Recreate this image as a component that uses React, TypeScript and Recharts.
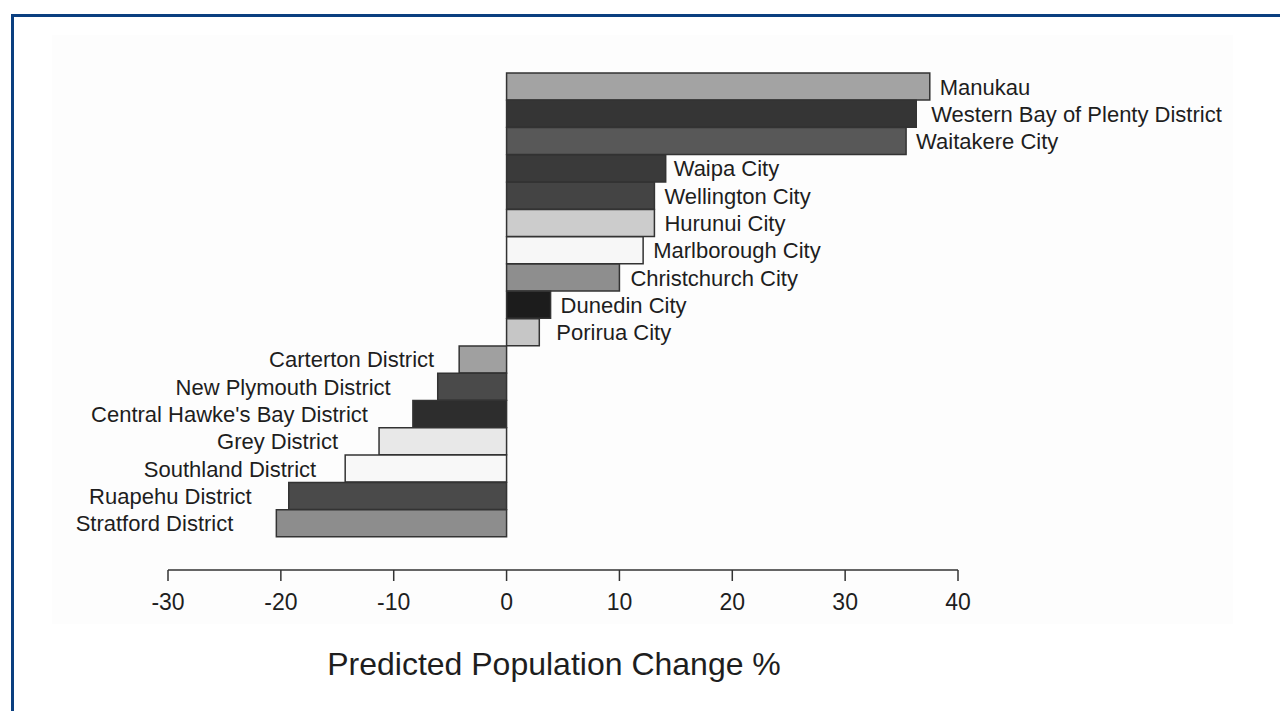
import { BarChart, Bar, XAxis, YAxis, Cell, LabelList } from "recharts";

const districts = [
  "Manukau",
  "Western Bay of Plenty District",
  "Waitakere City",
  "Waipa City",
  "Wellington City",
  "Hurunui City",
  "Marlborough City",
  "Christchurch City",
  "Dunedin City",
  "Porirua City",
  "Carterton District",
  "New Plymouth District",
  "Central Hawke's Bay District",
  "Grey District",
  "Southland District",
  "Ruapehu District",
  "Stratford District",
];

const change = [37.5, 36.3, 35.4, 14.1, 13.1, 13.1, 12.1, 10.0, 3.9, 2.9, -4.2, -6.1, -8.3, -11.3, -14.3, -19.3, -20.4];

const xTicks = [-30, -20, -10, 0, 10, 20, 30, 40];

// grey shade for each bar
const shades = [
  "#a3a3a3", "#353535", "#585858", "#3a3a3a", "#444444", "#cccccc", "#f7f7f7", "#8e8e8e", "#1c1c1c",
  "#c6c6c6", "#a0a0a0", "#4a4a4a", "#2d2d2d", "#e8e8e8", "#f8f8f8", "#4a4a4a", "#8d8d8d",
];

// distance between bar end and its name
const labelGap = [10, 15, 10, 8, 10, 10, 10, 11, 10, 17, 25, 47, 45, 41, 29, 37, 43];

const data = districts.map((name, i) => ({ name, value: change[i] }));

const FONT = '"Liberation Sans", Arial, sans-serif';

function NameLabel(props: any) {
  const { x, y, width, height, index } = props;
  const left = Math.min(x, x + width);
  const right = Math.max(x, x + width);
  const neg = change[index] < 0;
  const cy = y + height / 2;
  return (
    <text
      x={neg ? left - labelGap[index] : right + labelGap[index]}
      y={cy + 8}
      textAnchor={neg ? "end" : "start"}
      fontSize={22}
      fontFamily={FONT}
      fill="#1e1e1e"
    >
      {districts[index]}
    </text>
  );
}

export default function App() {
  return (
    <div style={{ position: "fixed", left: 0, top: 0, width: 1280, height: 711, background: "#fff", overflow: "hidden" }}>
      <div
        style={{
          position: "absolute",
          left: 11,
          top: 14,
          width: 1400,
          height: 800,
          borderTop: "3px solid #0b3f80",
          borderLeft: "3px solid #0b3f80",
        }}
      />
      <div style={{ position: "absolute", left: 52, top: 35, width: 1181, height: 589, background: "#fdfdfd" }} />
      <div style={{ position: "absolute", left: 0, top: 0 }}>
        <BarChart
          width={1280}
          height={711}
          data={data}
          layout="vertical"
          barCategoryGap={0}
          margin={{ top: 73, right: 322, left: 168, bottom: 91 }}
        >
          <XAxis
            type="number"
            domain={[-30, 40]}
            ticks={xTicks}
            interval={0}
            height={50}
            tickSize={11}
            tickMargin={13}
            axisLine={{ stroke: "#333", strokeWidth: 1.5 }}
            tickLine={{ stroke: "#333", strokeWidth: 1.5 }}
            tick={{ fontSize: 23, fontFamily: FONT, fill: "#1e1e1e" }}
          />
          <YAxis type="category" dataKey="name" hide padding={{ top: 0, bottom: 33 }} />
          <Bar dataKey="value" stroke="#333" strokeWidth={1.5} isAnimationActive={false}>
            {data.map((d, i) => (
              <Cell key={d.name} fill={shades[i]} />
            ))}
            <LabelList dataKey="name" content={NameLabel} />
          </Bar>
        </BarChart>
      </div>
      <div
        style={{
          position: "absolute",
          left: 0,
          top: 648,
          width: 1108,
          textAlign: "center",
          fontSize: 32,
          lineHeight: "32px",
          fontFamily: FONT,
          color: "#1e1e1e",
        }}
      >
        Predicted Population Change %
      </div>
    </div>
  );
}
